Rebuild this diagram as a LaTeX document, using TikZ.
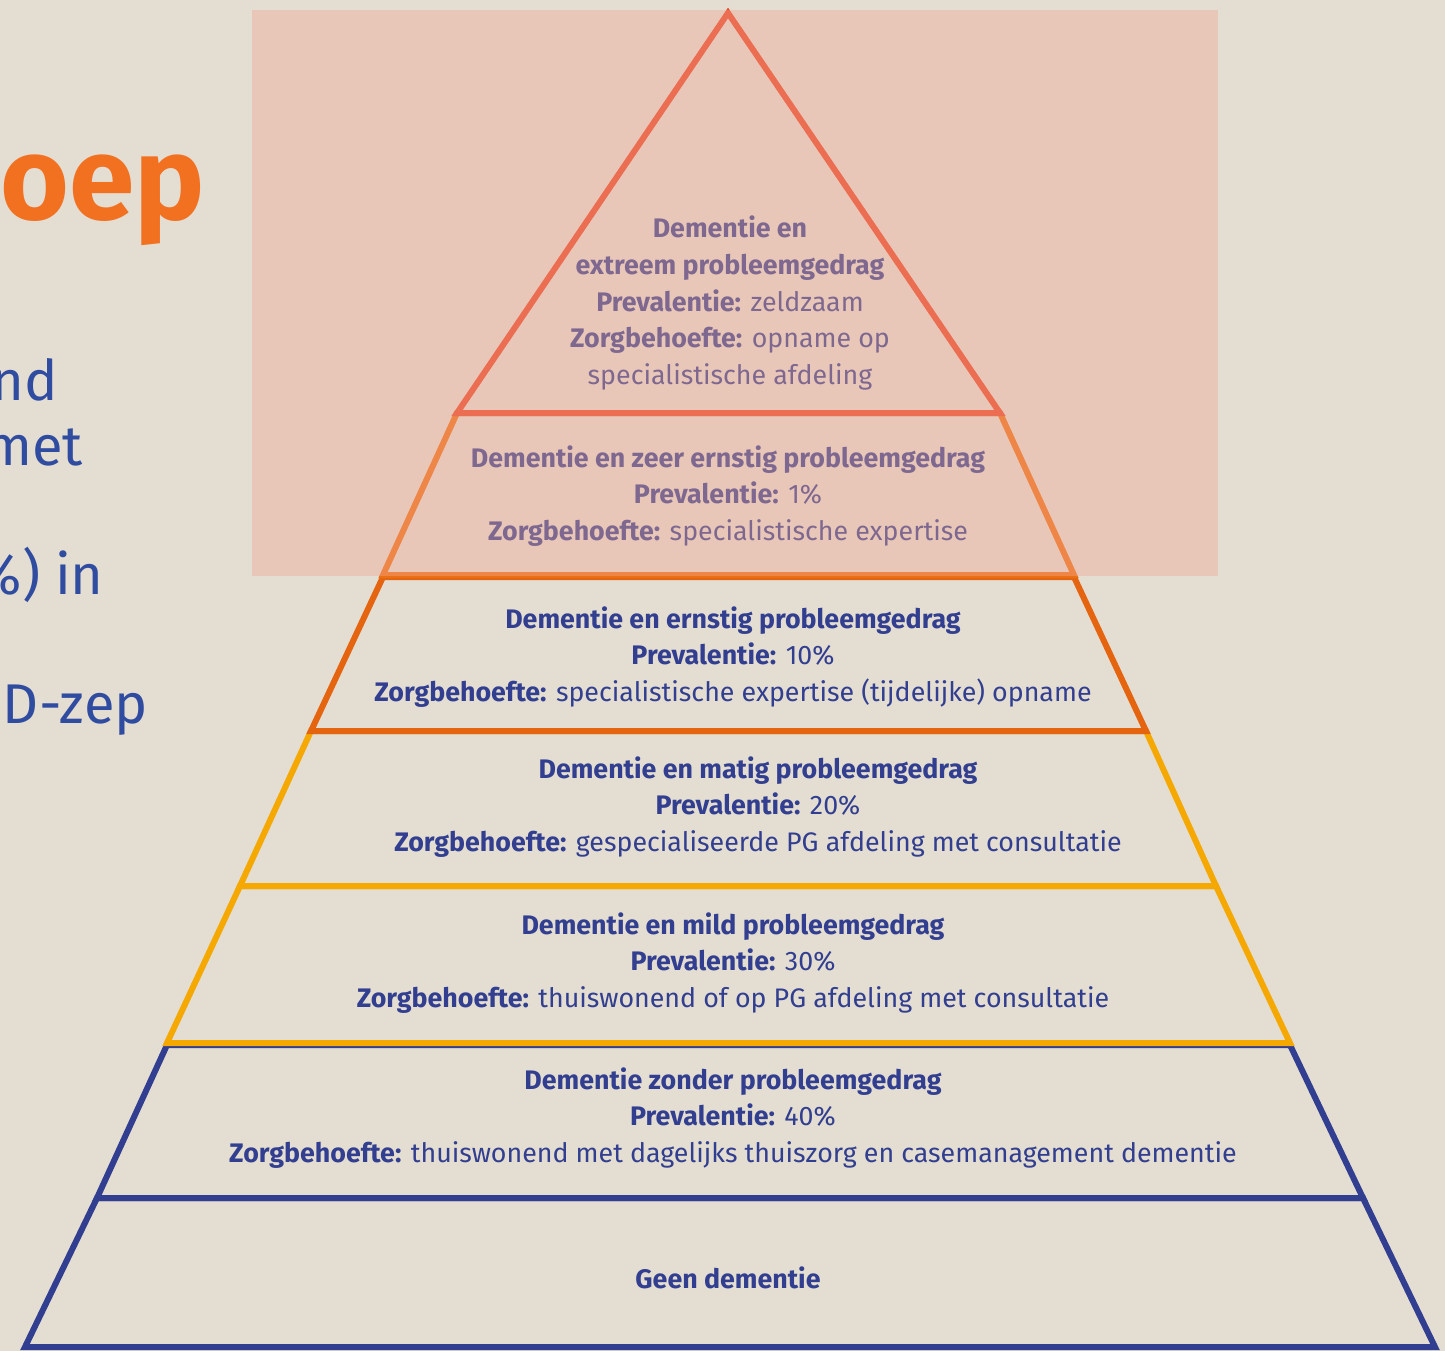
\documentclass[tikz,border=0pt]{standalone}
\usepackage{fontspec}
\setmainfont{Fira Sans}
\definecolor{bgbeige}{RGB}{227,221,210}
\definecolor{overlaypink}{RGB}{242,167,146}
\definecolor{redline}{RGB}{232,72,40}
\definecolor{lightorange}{RGB}{234,112,22}
\definecolor{darkorange}{RGB}{228,100,15}
\definecolor{amber}{RGB}{245,168,0}
\definecolor{navy}{RGB}{50,62,143}
\definecolor{titleorange}{RGB}{242,113,33}
\definecolor{sideblue}{RGB}{48,76,160}
\tikzset{
  layer/.style={line width=6pt, line join=miter},
  info/.style={align=center, inner sep=0pt, text=navy, font=\fontsize{26.8}{36.75}\selectfont},
  sidetext/.style={anchor=base east, inner sep=0pt, text=sideblue, font=\fontsize{56}{64}\selectfont}
}
\begin{document}
\begin{tikzpicture}[x=1pt,y=-1pt]
\useasboundingbox (0,0) rectangle (1445,1351);
\fill[bgbeige] (0,0) rectangle (1445,1351);

% slide text, cut off at the left edge
\begin{scope}
\clip (0,0) rectangle (1445,1351);
\node[anchor=base east, inner sep=0pt, text=titleorange, font=\fontsize{118}{130}\selectfont\bfseries] (title) at (205,219) {oep};
\node[sidetext] (side1) at (58,400) {nd};
\node[sidetext] (side2) at (83,465) {met};
\node[sidetext] (side3) at (104,594) {\%) in};
\node[sidetext] (side4) at (148,723) {D-zep};
\end{scope}

% pyramid layers, bottom up
\draw[layer, navy] (97,1198) -- (1363,1198) -- (1435,1347) -- (25,1347) -- cycle;
\draw[layer, navy] (167,1045) -- (1290,1045) -- (1363,1198) -- (97,1198) -- cycle;
\draw[layer, amber] (240,886) -- (1216,886) -- (1290,1043) -- (167,1043) -- cycle;
\draw[layer, amber] (311,731) -- (1146,731) -- (1216,886) -- (240,886) -- cycle;
\draw[layer, darkorange] (383,577) -- (1074,577) -- (1146,731) -- (311,731) -- cycle;
\draw[layer, lightorange] (457,413) -- (1000,413) -- (1074,575) -- (383,575) -- cycle;
\draw[layer, redline] (728,13) -- (1000,413) -- (457,413) -- cycle;

% texts
\node[info] (extreem) at (730,303) {\textbf{Dementie en}\\\textbf{extreem probleemgedrag}\\\textbf{Prevalentie:} zeldzaam\\\textbf{Zorgbehoefte:} opname op\\specialistische afdeling};
\node[info] (zeer) at (728,496) {\textbf{Dementie en zeer ernstig probleemgedrag}\\\textbf{Prevalentie:} 1\%\\\textbf{Zorgbehoefte:} specialistische expertise};
\node[info] (ernstig) at (733,657) {\textbf{Dementie en ernstig probleemgedrag}\\\textbf{Prevalentie:} 10\%\\\textbf{Zorgbehoefte:} specialistische expertise (tijdelijke) opname};
\node[info] (matig) at (758,807) {\textbf{Dementie en matig probleemgedrag}\\\textbf{Prevalentie:} 20\%\\\textbf{Zorgbehoefte:} gespecialiseerde PG afdeling met consultatie};
\node[info] (mild) at (733,963) {\textbf{Dementie en mild probleemgedrag}\\\textbf{Prevalentie:} 30\%\\\textbf{Zorgbehoefte:} thuiswonend of op PG afdeling met consultatie};
\node[info] (zonder) at (733,1118) {\textbf{Dementie zonder probleemgedrag}\\\textbf{Prevalentie:} 40\%\\\textbf{Zorgbehoefte:} thuiswonend met dagelijks thuiszorg en casemanagement dementie};
\node[info] (geen) at (728,1278) {\textbf{Geen dementie}};

% highlight over the top two layers
\fill[overlaypink, fill opacity=0.4] (252,10) rectangle (1218,576);
\end{tikzpicture}
\end{document}
